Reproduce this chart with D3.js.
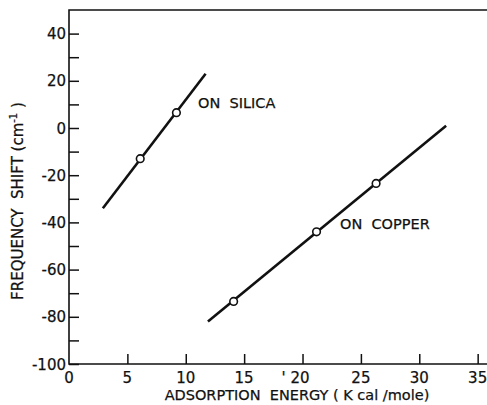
<!DOCTYPE html>
<html>
<head>
<meta charset="utf-8">
<script src="https://cdn.jsdelivr.net/npm/d3@7"></script>
<style>
body { margin: 0; background: #fff; }
text { font-family: "DejaVu Sans", Arial, sans-serif; fill: #111; white-space: pre; stroke: #111; stroke-width: 0.25px; }
</style>
</head>
<body>
<div id="svg-container"></div>
<script>
// Data ------------------------------------------------------------------------------------------------------
const silicaPoints = [[6.1, -13], [9.2, 6.5]];
const silicaLine = [[2.9, -34], [11.7, 23]];
const copperPoints = [[14.1, -73.5], [21.2, -44], [26.3, -23.5]];
const copperLine = [[11.9, -82], [32.3, 1]];

const xTicks = [0, 5, 10, 15, 20, 25, 30, 35];
const xTickLabels = ["0", "5", "10", "15", "' 20", "25", "30", "35"];
const yTicks = [40, 20, 0, -20, -40, -60, -80, -100];
const yTickLabels = ["40", "20", "0", "-20", "-40", "-60", "-80", "-100"];
const yMinorTicks = [30, 10, -10, -30, -50, -70, -90];

// Graph Dimensions ------------------------------------------------------------------------------------------
const width = 487,
      height = 405;

const svg = d3.select("#svg-container")
.append("svg")
.attr("width", width)
.attr("height", height);

const g = svg.append("g");

// Scales
const x = d3.scaleLinear()
.domain([0, 35.8])
.range([69, 487]);

const y = d3.scaleLinear()
.domain([-100, 50])
.range([364, 10]);

// Frame -----------------------------------------------------------------------------------------------------
g.append("path")
.attr("d", `M${x(35.8)},${y(50)} H${x(0)} V${y(-100)} H${x(35.8)}`)
.attr("fill", "none")
.attr("stroke", "#111")
.attr("stroke-width", 1.6);

// X Axis
const xAxis = g.append("g")
.attr("transform", `translate(0,${y(-100)})`)
.call(d3.axisTop(x).tickValues(xTicks.slice(1)).tickSize(10).tickFormat(''));
xAxis.select(".domain").remove();
xAxis.selectAll("line").attr("stroke", "#111").attr("stroke-width", 1.5);

g.selectAll(".xlabel")
.data(xTicks)
.enter()
.append("text")
.attr("class", "xlabel")
.attr("x", d => x(d))
.attr("y", 383)
.attr("dx", (d, i) => xTickLabels[i].startsWith("'") ? -7 : 0)
.attr("text-anchor", "middle")
.style("font-size", "15px")
.text((d, i) => xTickLabels[i]);

// Y Axis
const yAxis = g.append("g")
.attr("transform", `translate(${x(0)},0)`)
.call(d3.axisRight(y).tickValues(yTicks.concat(yMinorTicks)).tickSize(10).tickFormat(''));
yAxis.select(".domain").remove();
yAxis.selectAll("line").attr("stroke", "#111").attr("stroke-width", 1.5);

g.selectAll(".ylabel")
.data(yTicks)
.enter()
.append("text")
.attr("class", "ylabel")
.attr("x", 66)
.attr("y", d => y(d) + 5.5)
.attr("text-anchor", "end")
.style("font-size", "15px")
.text((d, i) => yTickLabels[i]);

// Axis Titles
g.append("text")
.attr("x", 297)
.attr("y", 400)
.attr("text-anchor", "middle")
.style("font-size", "14.5px")
.text("ADSORPTION  ENERGY ( K cal /mole)");

const yTitle = g.append("text")
.attr("transform", "translate(23,201) rotate(-90)")
.attr("text-anchor", "middle")
.style("font-size", "15px");
yTitle.append("tspan").text("FREQUENCY  SHIFT (cm");
yTitle.append("tspan").attr("dy", -6).style("font-size", "10px").text("-1");
yTitle.append("tspan").attr("dy", 6).text(" )");

// Lines -----------------------------------------------------------------------------------------------------
const line = d3.line()
.x(d => x(d[0]))
.y(d => y(d[1]));

g.selectAll(".fit")
.data([silicaLine, copperLine])
.enter()
.append("path")
.attr("class", "fit")
.attr("d", line)
.attr("fill", "none")
.attr("stroke", "#111")
.attr("stroke-width", 2.6);

// Data Points
g.selectAll(".dot")
.data(silicaPoints.concat(copperPoints))
.enter()
.append("circle")
.attr("class", "dot")
.attr("r", 3.8)
.attr("cx", d => x(d[0]))
.attr("cy", d => y(d[1]))
.attr("fill", "#fff")
.attr("stroke", "#111")
.attr("stroke-width", 1.6);

// Labels
g.append("text")
.attr("x", 198)
.attr("y", 108)
.style("font-size", "14.5px")
.text("ON  SILICA");

g.append("text")
.attr("x", 340)
.attr("y", 229)
.style("font-size", "14.5px")
.text("ON  COPPER");
</script>
</body>
</html>
